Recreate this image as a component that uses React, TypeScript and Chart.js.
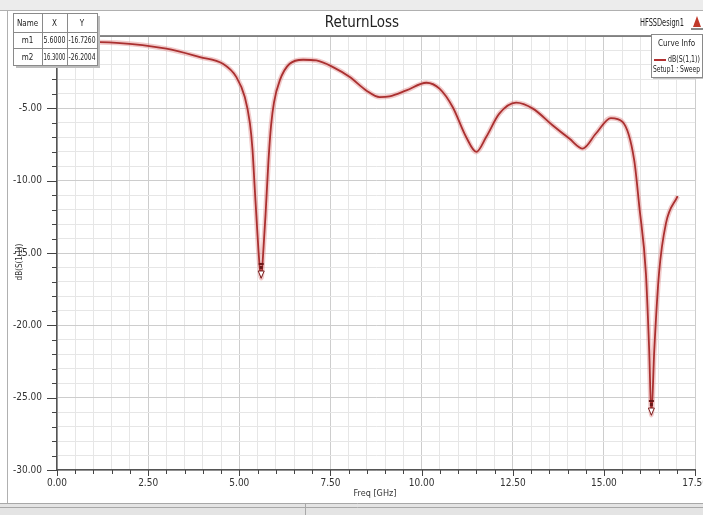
import { useEffect, useRef } from 'react';
import { Chart, registerables } from 'chart.js';

Chart.register(...registerables);

const FONT = "'Liberation Sans Narrow', 'DejaVu Sans Condensed', 'Arial Narrow', sans-serif";

// Frequency (GHz) and dB(S(1,1)) values
const freq = [
  0, 1.635, 3.0, 3.92, 4.55, 4.92, 5.15, 5.29, 5.36, 5.42, 5.5, 5.56, 5.6, 5.65, 5.72, 5.8, 5.87, 5.95,
  6.11, 6.38, 6.75, 7.11, 7.57, 8.03, 8.48, 8.85, 9.12, 9.58, 10.13, 10.49, 10.85, 11.22,
  11.5, 11.77, 12.13, 12.59, 13.05, 13.59, 14.05, 14.42, 14.78, 15.19, 15.51, 15.83, 15.97,
  16.15, 16.24, 16.3, 16.38, 16.51, 16.7, 17.02,
];
const s11 = [
  -0.38, -0.47, -0.88, -1.46, -1.92, -2.84, -4.22, -6.03, -7.8, -10.4, -13.8, -16.0, -16.73, -15.2, -12.3, -8.6, -6.2, -4.6,
  -3.07, -1.92, -1.64, -1.69, -2.15, -2.84, -3.76, -4.22, -4.17, -3.76, -3.23, -3.64, -4.91, -6.98,
  -8.01, -6.98, -5.37, -4.61, -5.02, -6.17, -7.09, -7.78, -6.74, -5.67, -5.94, -8.59, -11.81,
  -16.4, -21.7, -26.2, -21.7, -16.4, -12.95, -11.07,
];

const markerNames = ['m1', 'm2'];
const markerX = [5.6, 16.3];
const markerY = [-16.726, -26.2004];
const markerXText = ['5.6000', '16.3000'];
const markerYText = ['-16.7260', '-26.2004'];

const xTickStep = 0.5;
const xLabelStep = 2.5;
const yTickStep = 1;
const yLabelStep = 5;

const isMult = (v: number, s: number) => Math.abs(v / s - Math.round(v / s)) < 1e-6;

const decorPlugin = {
  id: 'decor',
  beforeDraw(chart: any) {
    const ctx = chart.ctx as CanvasRenderingContext2D;
    ctx.save();
    ctx.fillStyle = '#ffffff';
    ctx.fillRect(0, 0, chart.width, chart.height);
    ctx.fillStyle = '#ececec';
    ctx.fillRect(0, 0, chart.width, 10);
    ctx.strokeStyle = '#b0b0b0';
    ctx.lineWidth = 1;
    ctx.beginPath();
    ctx.moveTo(0, 10.5);
    ctx.lineTo(chart.width, 10.5);
    ctx.moveTo(7.5, 10);
    ctx.lineTo(7.5, 503);
    ctx.stroke();
    ctx.fillStyle = '#e4e4e4';
    ctx.fillRect(0, 503, chart.width, 12);
    ctx.strokeStyle = '#a8a8a8';
    ctx.beginPath();
    ctx.moveTo(0, 503.5);
    ctx.lineTo(chart.width, 503.5);
    ctx.moveTo(0, 507.5);
    ctx.lineTo(chart.width, 507.5);
    ctx.moveTo(305.5, 503);
    ctx.lineTo(305.5, 515);
    ctx.stroke();
    ctx.restore();
  },
  afterDraw(chart: any) {
    const ctx = chart.ctx as CanvasRenderingContext2D;
    const xs = chart.scales.x;
    const ys = chart.scales.y;
    const a = chart.chartArea;
    ctx.save();

    // tick marks
    ctx.strokeStyle = '#444';
    ctx.lineWidth = 1;
    ctx.beginPath();
    for (let v = 0; v <= 17.5 + 1e-9; v += xTickStep) {
      const px = Math.round(xs.getPixelForValue(v)) + 0.5;
      const len = isMult(v, xLabelStep) ? 6 : 4;
      ctx.moveTo(px, a.bottom);
      ctx.lineTo(px, a.bottom + len);
    }
    for (let v = 0; v >= -30 - 1e-9; v -= yTickStep) {
      const py = Math.round(ys.getPixelForValue(v)) + 0.5;
      const len = isMult(v, yLabelStep) ? 10 : 5;
      ctx.moveTo(a.left - len, py);
      ctx.lineTo(a.left, py);
    }
    ctx.stroke();

    // top plot border
    ctx.strokeStyle = '#666';
    ctx.lineWidth = 1.5;
    ctx.beginPath();
    ctx.moveTo(a.left, a.top);
    ctx.lineTo(a.right, a.top);
    ctx.stroke();

    // markers at minima
    for (let i = 0; i < markerX.length; i++) {
      const px = xs.getPixelForValue(markerX[i]);
      const py = ys.getPixelForValue(markerY[i]);
      ctx.strokeStyle = '#7a2020';
      ctx.fillStyle = '#ffffff';
      ctx.lineWidth = 1;
      ctx.beginPath();
      ctx.moveTo(px, py);
      ctx.lineTo(px - 3, py - 7);
      ctx.lineTo(px + 3, py - 7);
      ctx.closePath();
      ctx.fill();
      ctx.stroke();
      ctx.fillStyle = '#6a1a1a';
      ctx.fillRect(px - 2.5, py - 15, 5, 2);
      ctx.fillRect(px - 1.5, py - 12, 3, 3);
    }

    // title
    ctx.fillStyle = '#222';
    ctx.textBaseline = 'middle';
    ctx.textAlign = 'center';
    ctx.font = `15px ${FONT}`;
    ctx.fillText('ReturnLoss', 362, 23);

    ctx.textAlign = 'right';
    ctx.font = `11px ${FONT}`;
    ctx.fillText('HFSSDesign1', 684, 23, 44);
    ctx.fillStyle = '#c0392b';
    ctx.beginPath();
    ctx.moveTo(693, 27);
    ctx.lineTo(697, 16);
    ctx.lineTo(701, 27);
    ctx.closePath();
    ctx.fill();
    ctx.fillStyle = '#888';
    ctx.fillRect(691, 28, 12, 2);

    // axis titles
    ctx.fillStyle = '#333';
    ctx.textAlign = 'center';
    ctx.font = `9px ${FONT}`;
    ctx.fillText('Freq [GHz]', 375, 494);
    ctx.save();
    ctx.translate(20, 262);
    ctx.rotate(-Math.PI / 2);
    ctx.font = `8px ${FONT}`;
    ctx.fillText('dB(S(1,1))', 0, 0);
    ctx.restore();

    // marker table
    const tx = 13, ty = 13, cols = [13, 42, 67, 97], rows = [13, 32, 48, 65];
    ctx.fillStyle = '#bdbdbd';
    ctx.fillRect(tx + 3, ty + 3, cols[3] - tx, rows[3] - ty);
    ctx.fillStyle = '#ffffff';
    ctx.fillRect(tx, ty, cols[3] - tx, rows[3] - ty);
    ctx.strokeStyle = '#8a8a8a';
    ctx.lineWidth = 1;
    ctx.strokeRect(tx + 0.5, ty + 0.5, cols[3] - tx, rows[3] - ty);
    ctx.beginPath();
    for (let i = 1; i < 3; i++) {
      ctx.moveTo(cols[i] + 0.5, ty);
      ctx.lineTo(cols[i] + 0.5, rows[3]);
      ctx.moveTo(tx, rows[i] + 0.5);
      ctx.lineTo(cols[3], rows[i] + 0.5);
    }
    ctx.stroke();
    ctx.fillStyle = '#222';
    ctx.font = `8px ${FONT}`;
    const cx = [(cols[0] + cols[1]) / 2, (cols[1] + cols[2]) / 2, (cols[2] + cols[3]) / 2];
    const header = ['Name', 'X', 'Y'];
    header.forEach((h, i) => ctx.fillText(h, cx[i], (rows[0] + rows[1]) / 2 + 1, cols[i + 1] - cols[i] - 4));
    for (let r = 0; r < markerNames.length; r++) {
      const yy = (rows[r + 1] + rows[r + 2]) / 2 + 1;
      const vals = [markerNames[r], markerXText[r], markerYText[r]];
      vals.forEach((t, i) => ctx.fillText(t, cx[i], yy, cols[i + 1] - cols[i] - 3));
    }

    // curve info box
    const bx = 651, by = 34, bw = 51, bh = 43;
    ctx.fillStyle = '#c4c4c4';
    ctx.fillRect(bx + 2, by + 2, bw, bh);
    ctx.fillStyle = '#ffffff';
    ctx.fillRect(bx, by, bw, bh);
    ctx.strokeStyle = '#8a8a8a';
    ctx.strokeRect(bx + 0.5, by + 0.5, bw, bh);
    ctx.fillStyle = '#222';
    ctx.textAlign = 'center';
    ctx.font = `8px ${FONT}`;
    ctx.fillText('Curve Info', bx + bw / 2, by + 10, bw - 6);
    ctx.strokeStyle = '#b22f2f';
    ctx.lineWidth = 2;
    ctx.beginPath();
    ctx.moveTo(bx + 3, by + 26);
    ctx.lineTo(bx + 15, by + 26);
    ctx.stroke();
    ctx.textAlign = 'left';
    ctx.fillText('dB(S(1,1))', bx + 17, by + 26, bw - 19);
    ctx.fillText('Setup1 : Sweep', bx + 2, by + 36, bw - 4);

    ctx.restore();
  },
};

export default function App() {
  const ref = useRef<HTMLCanvasElement>(null);
  useEffect(() => {
    const points = freq.map((f, i) => ({ x: f, y: s11[i] }));
    const chart = new Chart(ref.current as HTMLCanvasElement, {
      type: 'line',
      data: {
        datasets: [
          {
            data: points,
            borderColor: '#aa3030',
            borderWidth: 1.8,
            pointRadius: 0,
            cubicInterpolationMode: 'monotone',
            order: 0,
          },
          {
            data: points,
            borderColor: 'rgba(225,140,140,0.45)',
            borderWidth: 5,
            pointRadius: 0,
            cubicInterpolationMode: 'monotone',
            order: 1,
          },
        ],
      },
      options: {
        responsive: false,
        animation: false,
        devicePixelRatio: 1,
        layout: { padding: { top: 36, right: 19, left: 0, bottom: 0 } },
        plugins: { legend: { display: false }, tooltip: { enabled: false }, title: { display: false } },
        scales: {
          x: {
            type: 'linear',
            min: 0,
            max: 17.5,
            afterFit: (s: any) => { s.height = 45; },
            ticks: {
              stepSize: xTickStep,
              autoSkip: false,
              maxRotation: 0,
              padding: 7,
              color: '#333',
              font: { family: FONT, size: 10 },
              callback: (v: any) => (isMult(Number(v), xLabelStep) ? Number(v).toFixed(2) : ''),
            },
            grid: {
              drawTicks: false,
              color: (c: any) => (isMult(c.tick.value, xLabelStep) ? '#cdcdcd' : '#e6e6e6'),
            },
            border: { color: '#555', width: 1.5 },
          },
          y: {
            type: 'linear',
            min: -30,
            max: 0,
            afterFit: (s: any) => { s.width = 57; },
            ticks: {
              stepSize: yTickStep,
              autoSkip: false,
              padding: 15,
              color: '#333',
              font: { family: FONT, size: 10 },
              callback: (v: any) => {
                const n = Number(v);
                if (n === 0) return '';
                return isMult(n, yLabelStep) ? n.toFixed(2) : '';
              },
            },
            grid: {
              drawTicks: false,
              color: (c: any) => (isMult(c.tick.value, yLabelStep) ? '#cdcdcd' : '#e6e6e6'),
            },
            border: { color: '#555', width: 1.5 },
          },
        },
      },
      plugins: [decorPlugin],
    } as any);
    return () => chart.destroy();
  }, []);
  return (
    <div style={{ position: 'fixed', left: 0, top: 0, width: 703, height: 515, overflow: 'hidden', background: '#fff' }}>
      <canvas ref={ref} width={715} height={515} style={{ width: 715, height: 515, display: 'block' }} />
    </div>
  );
}
